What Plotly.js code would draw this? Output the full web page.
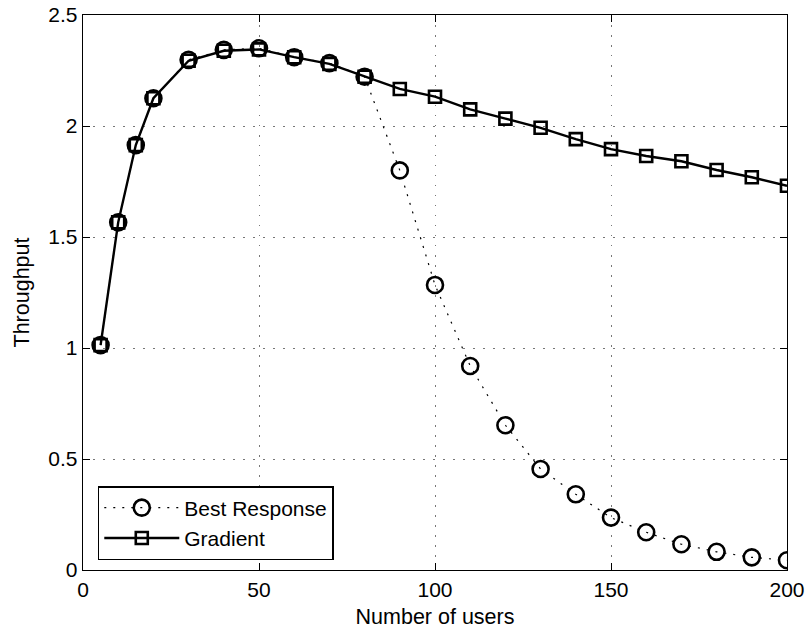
<!DOCTYPE html>
<html>
<head>
<meta charset="utf-8">
<script src="https://cdn.plot.ly/plotly-3.0.1.min.js"></script>
<style>
  html, body { margin: 0; padding: 0; background: #fff; }
  #chart { width: 809px; height: 630px; }
</style>
</head>
<body>
<div id="chart"></div>
<script>
// Number of users in the system
const users = [5, 10, 15, 20, 30, 40, 50, 60, 70, 80, 90, 100, 110, 120, 130, 140, 150, 160, 170, 180, 190, 200];

// Throughput achieved by each scheme
const bestResponse = [1.013, 1.566, 1.914, 2.125, 2.298, 2.343, 2.35, 2.31, 2.283, 2.222, 1.80, 1.284, 0.919, 0.652, 0.455, 0.341, 0.236, 0.170, 0.116, 0.082, 0.057, 0.044];
const gradient = [1.013, 1.566, 1.914, 2.125, 2.294, 2.339, 2.345, 2.31, 2.28, 2.222, 2.167, 2.132, 2.075, 2.033, 1.992, 1.941, 1.896, 1.865, 1.841, 1.802, 1.769, 1.731];

// Axis ticks
const xTicks = [0, 50, 100, 150, 200];
const yTicks = [0, 0.5, 1, 1.5, 2, 2.5];
const yTickText = ['0', '0.5', '1', '1.5', '2', '2.5'];

const FONT = 'Liberation Sans, Arial, Helvetica, sans-serif';

const traces = [
  {
    x: users, y: bestResponse, name: 'Best Response',
    type: 'scatter', mode: 'lines+markers',
    line: { color: '#000', width: 1.2, dash: '2px,7px' },
    marker: { symbol: 'circle-open', size: 16, color: '#000', line: { width: 2.6, color: '#000' } }
  },
  {
    x: users, y: gradient, name: 'Gradient',
    type: 'scatter', mode: 'lines+markers',
    line: { color: '#000', width: 2.4 },
    marker: { symbol: 'square-open', size: 12, color: '#000', line: { width: 2.6, color: '#000' } }
  }
];

const axisCommon = {
  showline: true, linecolor: '#000', linewidth: 1.3, mirror: 'ticks',
  ticks: 'inside', ticklen: 7, tickwidth: 1, tickcolor: '#000',
  showgrid: true, gridcolor: '#777', gridwidth: 1, griddash: '1.5px,8.5px',
  zeroline: false,
  tickfont: { family: FONT, size: 21, color: '#000' }
};

const layout = {
  width: 809, height: 630,
  margin: { l: 83, r: 22, t: 15, b: 60 },
  paper_bgcolor: '#fff', plot_bgcolor: '#fff',
  showlegend: true,
  xaxis: Object.assign({}, axisCommon, {
    range: [0, 200], tickvals: xTicks, ticktext: xTicks.map(String),
    title: { text: 'Number of users', font: { family: FONT, size: 21.5, color: '#000' }, standoff: 9 }
  }),
  yaxis: Object.assign({}, axisCommon, {
    range: [0, 2.5], tickvals: yTicks, ticktext: yTickText,
    title: { text: 'Throughput', font: { family: FONT, size: 21.5, color: '#000' }, standoff: 12 }
  }),
  legend: {
    x: 0.021, y: 0.018, xanchor: 'left', yanchor: 'bottom',
    bgcolor: '#fff', bordercolor: '#000', borderwidth: 1.5,
    font: { family: FONT, size: 21, color: '#000' },
    itemwidth: 75, tracegroupgap: 0
  }
};

Plotly.newPlot('chart', traces, layout, { displayModeBar: false, staticPlot: true });
</script>
</body>
</html>
